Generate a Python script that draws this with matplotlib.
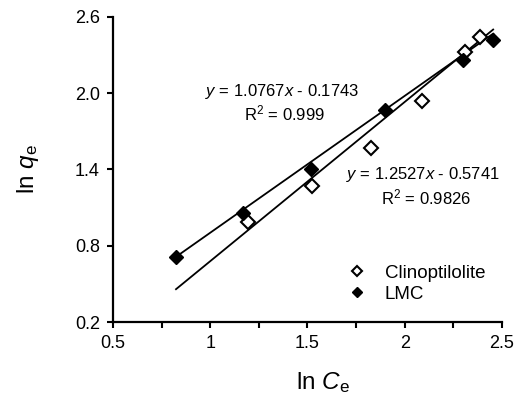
import matplotlib
matplotlib.use("Agg")
import matplotlib.pyplot as plt
import numpy as np
from matplotlib.ticker import MultipleLocator, FixedLocator

plt.rcParams['font.family'] = ['Liberation Sans', 'DejaVu Sans']
plt.rcParams['mathtext.fontset'] = 'custom'
plt.rcParams['mathtext.rm'] = 'Liberation Sans'
plt.rcParams['mathtext.it'] = 'Liberation Sans:italic'

# Data
clino_x = [1.196, 1.521, 1.826, 2.087, 2.310, 2.387]
clino_y = [0.985, 1.267, 1.572, 1.940, 2.326, 2.440]
lmc_x = [0.824, 1.167, 1.516, 1.897, 2.301, 2.455]
lmc_y = [0.713, 1.059, 1.400, 1.871, 2.261, 2.418]

lmc_fit = (1.0767, -0.1743)
clino_fit = (1.2527, -0.5741)
fit_range = (0.824, 2.455)

x_ticks = [0.5, 1.0, 1.5, 2.0, 2.5]
x_labels = ['0.5', '1', '1.5', '2', '2.5']
y_ticks = [0.2, 0.8, 1.4, 2.0, 2.6]
y_labels = ['0.2', '0.8', '1.4', '2.0', '2.6']

fig = plt.figure(figsize=(5.30, 3.95), dpi=100)
ax = fig.add_axes([0.2132, 0.1848, 0.947 - 0.2132, 0.957 - 0.1848])

xs = np.array(fit_range)
ax.plot(xs, lmc_fit[0] * xs + lmc_fit[1], color='black', lw=1.3, zorder=2)
ax.plot(xs, clino_fit[0] * xs + clino_fit[1], color='black', lw=1.3, zorder=2)

ax.plot(clino_x, clino_y, linestyle='none', marker='D', ms=6.8,
        mfc='white', mec='black', mew=1.5, label='Clinoptilolite', zorder=3)
ax.plot(lmc_x, lmc_y, linestyle='none', marker='D', ms=6.8,
        mfc='black', mec='black', mew=1.0, label='LMC', zorder=4)

ax.set_xlim(0.5, 2.5)
ax.set_ylim(0.2, 2.6)
ax.xaxis.set_major_locator(FixedLocator(x_ticks))
ax.set_xticklabels(x_labels)
ax.xaxis.set_minor_locator(MultipleLocator(0.25))
ax.yaxis.set_major_locator(FixedLocator(y_ticks))
ax.set_yticklabels(y_labels)

for s in ['top', 'right']:
    ax.spines[s].set_visible(False)
for s in ['left', 'bottom']:
    ax.spines[s].set_linewidth(1.6)
ax.tick_params(axis='both', which='both', direction='out', length=4.5, width=1.5,
               labelsize=13, colors='black', pad=5)

ax.set_xlabel(r'ln $\mathit{C}_\mathrm{e}$', fontsize=17.5)
ax.set_ylabel(r'ln $\mathit{q}_\mathrm{e}$', fontsize=17.5)
ax.xaxis.set_label_coords(0.541, -0.158)
ax.yaxis.set_label_coords(-0.185, 0.50)

ax.text(1.37, 2.011, r'$y$ = 1.0767$x$ - 0.1743', fontsize=12, ha='center', va='center')
ax.text(1.384, 1.843, r'R$^2$ = 0.999', fontsize=12, ha='center', va='center')
ax.text(2.095, 1.361, r'$y$ = 1.2527$x$ - 0.5741', fontsize=12, ha='center', va='center')
ax.text(2.11, 1.182, r'R$^2$ = 0.9826', fontsize=12, ha='center', va='center')

ax.legend(loc='upper left', bbox_to_anchor=(0.583, 0.212), frameon=False,
          fontsize=13.5, markerscale=0.75, handletextpad=1.0, labelspacing=0.2,
          handlelength=1.0, borderaxespad=0)

fig.savefig('out.png', dpi=100)
